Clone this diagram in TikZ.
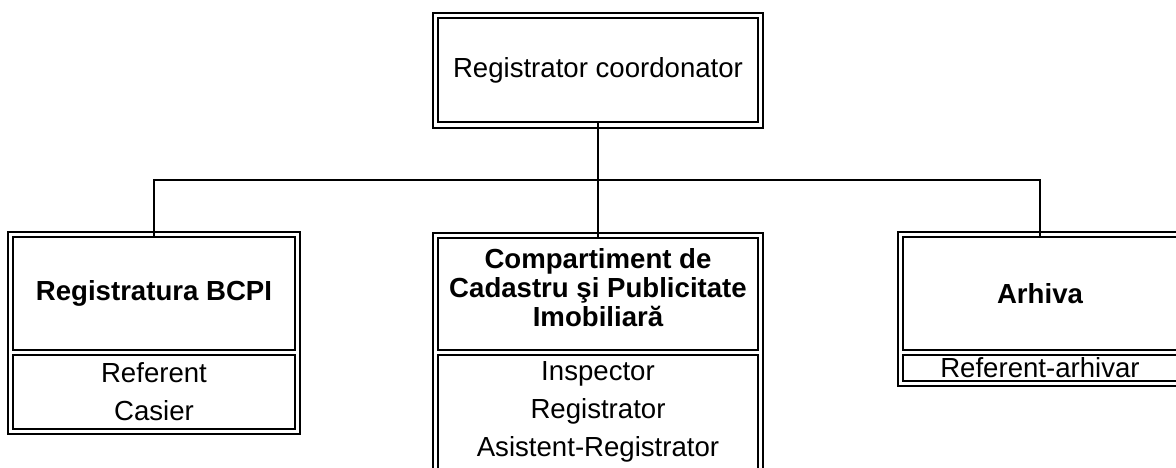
\documentclass[tikz,border=0pt]{standalone}
\usepackage{fontspec}
\setmainfont{Liberation Sans}

\tikzset{
	frame/.style={draw, line width=2pt, inner sep=0pt},
	cell/.style={draw, line width=2.4pt, inner sep=0pt, align=center, font=\fontsize{27.6}{38}\selectfont},
	head/.style={cell, font=\fontsize{27.6}{29}\selectfont\bfseries},
	headtext/.style={inner sep=0pt, align=center, font=\fontsize{27.6}{29}\selectfont\bfseries}
}

\begin{document}
\begin{tikzpicture}[x=1pt,y=-1pt]

	\useasboundingbox (0,0) rectangle (1176,467);
	\clip (0,0) rectangle (1176,467);

	% coordonator
	\node [frame, minimum width=330, minimum height=115] (sef) at (598,70) {};
	\node [cell, minimum width=320, minimum height=104] (sefcell) at (598,70) {Registrator coordonator};

	% registratura
	\node [frame, minimum width=292, minimum height=202] (bcpi) at (154,333) {};
	\node [head, minimum width=282, minimum height=113] (bcpihead) at (154,293.5) {Registratura BCPI};
	\node [cell, minimum width=282, minimum height=74] (bcpibody) at (154,392) {Referent\\Casier};

	% cadastru
	\node [frame, minimum width=330, minimum height=250] (cpi) at (598,358) {};
	\node [head, minimum width=320, minimum height=112] (cpihead) at (598,294) {};
	\node [headtext] (cpitext) at (598,288) {Compartiment de\\Cadastru şi Publicitate\\Imobiliară};
	\node [cell, minimum width=320, minimum height=114] (cpibody) at (598,412) {Inspector\\Registrator\\Asistent-Registrator};

	% arhiva
	\node [frame, minimum width=284, minimum height=154] (arh) at (1040,309) {};
	\node [head, minimum width=274, minimum height=113] (arhhead) at (1040,293.5) {Arhiva};
	\node [cell, minimum width=274, minimum height=26] (arhbody) at (1040,368) {Referent-arhivar};

	\coordinate (hub) at (598,180);

	\draw [line width=1.4pt] (sefcell.south) -- (hub) -- (cpihead.north);
	\draw [line width=1.4pt] (bcpihead.north) |- (hub) -| (arhhead.north);

\end{tikzpicture}
\end{document}
